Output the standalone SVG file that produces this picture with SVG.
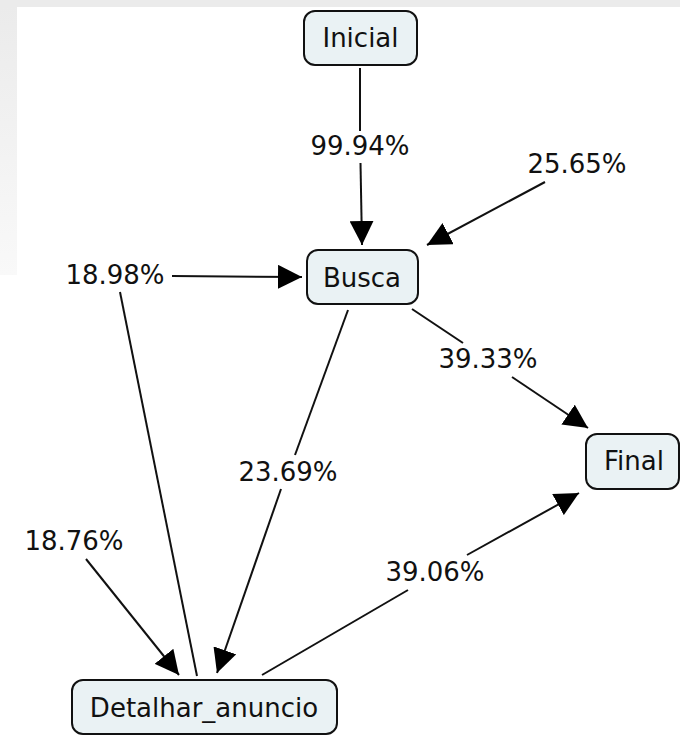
<svg xmlns="http://www.w3.org/2000/svg" width="680" height="735" viewBox="0 0 680 735">
<style>
.node rect{fill:#eaf2f4;stroke:#111;stroke-width:2}
text{font-family:"DejaVu Sans","Liberation Sans",sans-serif;font-size:26px;fill:#111;text-anchor:middle}
.edge{stroke:#111;stroke-width:2;fill:none}
</style>
<defs>
<linearGradient id="lg" x1="0" y1="0" x2="0" y2="1">
<stop offset="0" stop-color="#ebebeb"/>
<stop offset="1" stop-color="#f9f9f9"/>
</linearGradient>
<marker id="ah" viewBox="0 0 24 24" refX="24" refY="12" markerWidth="24" markerHeight="24" markerUnits="userSpaceOnUse" orient="auto">
<path d="M0,0 L24,12 L0,24 z" fill="#000"/>
</marker>
</defs>
<rect width="680" height="735" fill="#fff"/>
<rect x="0" y="0" width="680" height="7" fill="#ebebeb"/>
<rect x="0" y="7" width="17" height="268" fill="url(#lg)"/>
<g id="connectors">
<line class="edge" x1="360" y1="68" x2="360" y2="131"/>
<line class="edge" x1="360.5" y1="163" x2="362" y2="245" marker-end="url(#ah)"/>
<line class="edge" x1="545" y1="182" x2="427" y2="245" marker-end="url(#ah)"/>
<line class="edge" x1="197" y1="676" x2="120" y2="292"/>
<line class="edge" x1="172" y1="276" x2="302" y2="277" marker-end="url(#ah)"/>
<line class="edge" x1="348" y1="310" x2="295" y2="455"/>
<line class="edge" x1="281" y1="489" x2="217" y2="673" marker-end="url(#ah)"/>
<line class="edge" x1="86" y1="559" x2="179" y2="675" marker-end="url(#ah)"/>
<line class="edge" x1="262" y1="675" x2="408" y2="590"/>
<line class="edge" x1="467" y1="555" x2="579" y2="493" marker-end="url(#ah)"/>
<line class="edge" x1="412" y1="309" x2="463" y2="343"/>
<line class="edge" x1="512" y1="377" x2="588" y2="428" marker-end="url(#ah)"/>
<text x="360" y="155">99.94%</text>
<text x="577" y="173">25.65%</text>
<text x="115" y="284">18.98%</text>
<text x="288" y="481">23.69%</text>
<text x="74" y="550">18.76%</text>
<text x="435" y="581">39.06%</text>
<text x="488" y="368">39.33%</text>
</g>
<g id="node-inicial" class="node">
<rect x="304" y="11" width="113" height="54" rx="11"/>
<text x="360.5" y="47">Inicial</text>
</g>
<g id="node-busca" class="node">
<rect x="307" y="250" width="111" height="54" rx="11"/>
<text x="362" y="287">Busca</text>
</g>
<g id="node-final" class="node">
<rect x="586" y="434" width="93" height="55" rx="11"/>
<text x="634" y="470">Final</text>
</g>
<g id="node-detalhar" class="node">
<rect x="72" y="680" width="265" height="54" rx="11"/>
<text x="204" y="717">Detalhar_anuncio</text>
</g>
</svg>
